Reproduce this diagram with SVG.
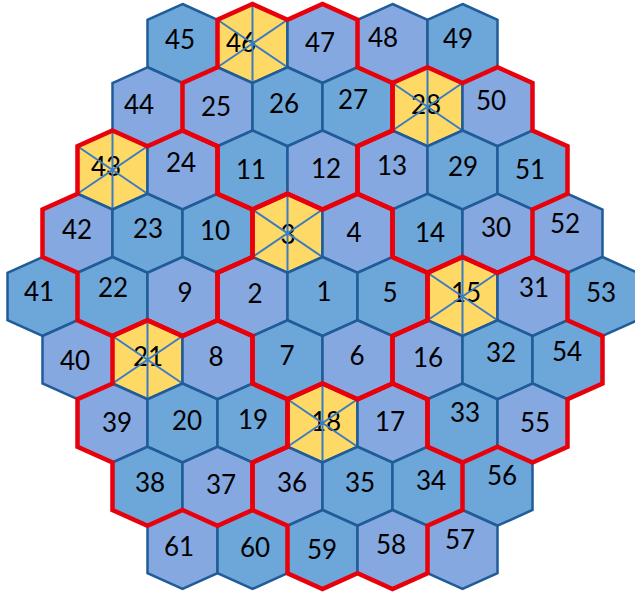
<svg xmlns="http://www.w3.org/2000/svg" width="635" height="592" viewBox="0 0 635 592">
<style>
.t{fill:#6DA6D9}
.p{fill:#86A8E0}
.y{fill:#FFD966}
.hx{stroke:#1F5C98;stroke-width:2.5;stroke-linejoin:miter}
.st{fill:none;stroke:#3B7CC2;stroke-width:2}
.red{fill:none;stroke:#E8000B;stroke-width:4.5;stroke-linejoin:miter}
text{font-family:Lato,"Liberation Sans",sans-serif;font-size:26px;fill:#000;text-anchor:middle}
</style>
<defs>
<path id="h" d="M0,-39.5L35,-23.75L35,23.75L0,39.5L-35,23.75L-35,-23.75Z"/>
<path id="s" d="M0,-39.5V39.5M35,-23.75L-35,23.75M-35,-23.75L35,23.75"/>
<path id="f" d="M-35,-102.75L0,-87L35,-102.75L70,-87L70,-39.5L105,-23.75L105,23.75L70,39.5L70,87L35,102.75L0,87L-35,102.75L-70,87L-70,39.5L-105,23.75L-105,-23.75L-70,-39.5L-70,-87Z"/>
</defs>
<g id="hex-45"><use href="#h" x="182.5" y="43.5" class="hx t"/><text x="180" y="49">45</text></g>
<g id="hex-46"><use href="#h" x="252.5" y="43.5" class="hx y"/><text x="241" y="52">46</text><use href="#s" x="252.5" y="43.5" class="st"/></g>
<g id="hex-47"><use href="#h" x="322.5" y="43.5" class="hx p"/><text x="320" y="52">47</text></g>
<g id="hex-48"><use href="#h" x="392.5" y="43.5" class="hx p"/><text x="383" y="47">48</text></g>
<g id="hex-49"><use href="#h" x="462.5" y="43.5" class="hx t"/><text x="458" y="48">49</text></g>
<g id="hex-44"><use href="#h" x="147.5" y="106.75" class="hx p"/><text x="139" y="114">44</text></g>
<g id="hex-25"><use href="#h" x="217.5" y="106.75" class="hx p"/><text x="216" y="116">25</text></g>
<g id="hex-26"><use href="#h" x="287.5" y="106.75" class="hx t"/><text x="284" y="113">26</text></g>
<g id="hex-27"><use href="#h" x="357.5" y="106.75" class="hx t"/><text x="353" y="109">27</text></g>
<g id="hex-28"><use href="#h" x="427.5" y="106.75" class="hx y"/><text x="426" y="114">28</text><use href="#s" x="427.5" y="106.75" class="st"/></g>
<g id="hex-50"><use href="#h" x="497.5" y="106.75" class="hx p"/><text x="491" y="110">50</text></g>
<g id="hex-43"><use href="#h" x="112.5" y="170" class="hx y"/><text x="106" y="176">43</text><use href="#s" x="112.5" y="170" class="st"/></g>
<g id="hex-24"><use href="#h" x="182.5" y="170" class="hx p"/><text x="181" y="172">24</text></g>
<g id="hex-11"><use href="#h" x="252.5" y="170" class="hx t"/><text x="251" y="179">11</text></g>
<g id="hex-12"><use href="#h" x="322.5" y="170" class="hx p"/><text x="326" y="178">12</text></g>
<g id="hex-13"><use href="#h" x="392.5" y="170" class="hx p"/><text x="392" y="175">13</text></g>
<g id="hex-29"><use href="#h" x="462.5" y="170" class="hx t"/><text x="463" y="176">29</text></g>
<g id="hex-51"><use href="#h" x="532.5" y="170" class="hx t"/><text x="530" y="179">51</text></g>
<g id="hex-42"><use href="#h" x="77.5" y="233.25" class="hx p"/><text x="77" y="239">42</text></g>
<g id="hex-23"><use href="#h" x="147.5" y="233.25" class="hx t"/><text x="148" y="238">23</text></g>
<g id="hex-10"><use href="#h" x="217.5" y="233.25" class="hx t"/><text x="215" y="240">10</text></g>
<g id="hex-3"><use href="#h" x="287.5" y="233.25" class="hx y"/><text x="288" y="244">3</text><use href="#s" x="287.5" y="233.25" class="st"/></g>
<g id="hex-4"><use href="#h" x="357.5" y="233.25" class="hx p"/><text x="354" y="242">4</text></g>
<g id="hex-14"><use href="#h" x="427.5" y="233.25" class="hx t"/><text x="430" y="242">14</text></g>
<g id="hex-30"><use href="#h" x="497.5" y="233.25" class="hx p"/><text x="496" y="237">30</text></g>
<g id="hex-52"><use href="#h" x="567.5" y="233.25" class="hx p"/><text x="565" y="233">52</text></g>
<g id="hex-41"><use href="#h" x="42.5" y="296.5" class="hx t"/><text x="39" y="301">41</text></g>
<g id="hex-22"><use href="#h" x="112.5" y="296.5" class="hx t"/><text x="113" y="297">22</text></g>
<g id="hex-9"><use href="#h" x="182.5" y="296.5" class="hx p"/><text x="185" y="302">9</text></g>
<g id="hex-2"><use href="#h" x="252.5" y="296.5" class="hx p"/><text x="255" y="303">2</text></g>
<g id="hex-1"><use href="#h" x="322.5" y="296.5" class="hx t"/><text x="324" y="301">1</text></g>
<g id="hex-5"><use href="#h" x="392.5" y="296.5" class="hx t"/><text x="390" y="302">5</text></g>
<g id="hex-15"><use href="#h" x="462.5" y="296.5" class="hx y"/><text x="466" y="302">15</text><use href="#s" x="462.5" y="296.5" class="st"/></g>
<g id="hex-31"><use href="#h" x="532.5" y="296.5" class="hx p"/><text x="534" y="297">31</text></g>
<g id="hex-53"><use href="#h" x="602.5" y="296.5" class="hx t"/><text x="601" y="302">53</text></g>
<g id="hex-40"><use href="#h" x="77.5" y="359.75" class="hx p"/><text x="75" y="370">40</text></g>
<g id="hex-21"><use href="#h" x="147.5" y="359.75" class="hx y"/><text x="148" y="366">21</text><use href="#s" x="147.5" y="359.75" class="st"/></g>
<g id="hex-8"><use href="#h" x="217.5" y="359.75" class="hx p"/><text x="216" y="366">8</text></g>
<g id="hex-7"><use href="#h" x="287.5" y="359.75" class="hx t"/><text x="287" y="365">7</text></g>
<g id="hex-6"><use href="#h" x="357.5" y="359.75" class="hx p"/><text x="357" y="365">6</text></g>
<g id="hex-16"><use href="#h" x="427.5" y="359.75" class="hx p"/><text x="428" y="367">16</text></g>
<g id="hex-32"><use href="#h" x="497.5" y="359.75" class="hx t"/><text x="501" y="362">32</text></g>
<g id="hex-54"><use href="#h" x="567.5" y="359.75" class="hx t"/><text x="567" y="361">54</text></g>
<g id="hex-39"><use href="#h" x="112.5" y="423" class="hx p"/><text x="117" y="432">39</text></g>
<g id="hex-20"><use href="#h" x="182.5" y="423" class="hx t"/><text x="187" y="430">20</text></g>
<g id="hex-19"><use href="#h" x="252.5" y="423" class="hx t"/><text x="253" y="429">19</text></g>
<g id="hex-18"><use href="#h" x="322.5" y="423" class="hx y"/><text x="326" y="431">18</text><use href="#s" x="322.5" y="423" class="st"/></g>
<g id="hex-17"><use href="#h" x="392.5" y="423" class="hx p"/><text x="390" y="431">17</text></g>
<g id="hex-33"><use href="#h" x="462.5" y="423" class="hx t"/><text x="465" y="422">33</text></g>
<g id="hex-55"><use href="#h" x="532.5" y="423" class="hx p"/><text x="535" y="432">55</text></g>
<g id="hex-38"><use href="#h" x="147.5" y="486.25" class="hx t"/><text x="150" y="492">38</text></g>
<g id="hex-37"><use href="#h" x="217.5" y="486.25" class="hx p"/><text x="221" y="494">37</text></g>
<g id="hex-36"><use href="#h" x="287.5" y="486.25" class="hx p"/><text x="292" y="492">36</text></g>
<g id="hex-35"><use href="#h" x="357.5" y="486.25" class="hx t"/><text x="360" y="492">35</text></g>
<g id="hex-34"><use href="#h" x="427.5" y="486.25" class="hx t"/><text x="431" y="490">34</text></g>
<g id="hex-56"><use href="#h" x="497.5" y="486.25" class="hx t"/><text x="502" y="485">56</text></g>
<g id="hex-61"><use href="#h" x="182.5" y="549.5" class="hx p"/><text x="179" y="556">61</text></g>
<g id="hex-60"><use href="#h" x="252.5" y="549.5" class="hx t"/><text x="255" y="557">60</text></g>
<g id="hex-59"><use href="#h" x="322.5" y="549.5" class="hx t"/><text x="322" y="559">59</text></g>
<g id="hex-58"><use href="#h" x="392.5" y="549.5" class="hx p"/><text x="391" y="554">58</text></g>
<g id="hex-57"><use href="#h" x="462.5" y="549.5" class="hx p"/><text x="460" y="549">57</text></g>
<g id="boundaries" class="red">
<use href="#f" x="322.5" y="296.5"/>
<use href="#f" x="287.5" y="106.75"/>
<use href="#f" x="462.5" y="170"/>
<use href="#f" x="497.5" y="359.75"/>
<use href="#f" x="357.5" y="486.25"/>
<use href="#f" x="182.5" y="423"/>
<use href="#f" x="147.5" y="233.25"/>
</g>
</svg>
